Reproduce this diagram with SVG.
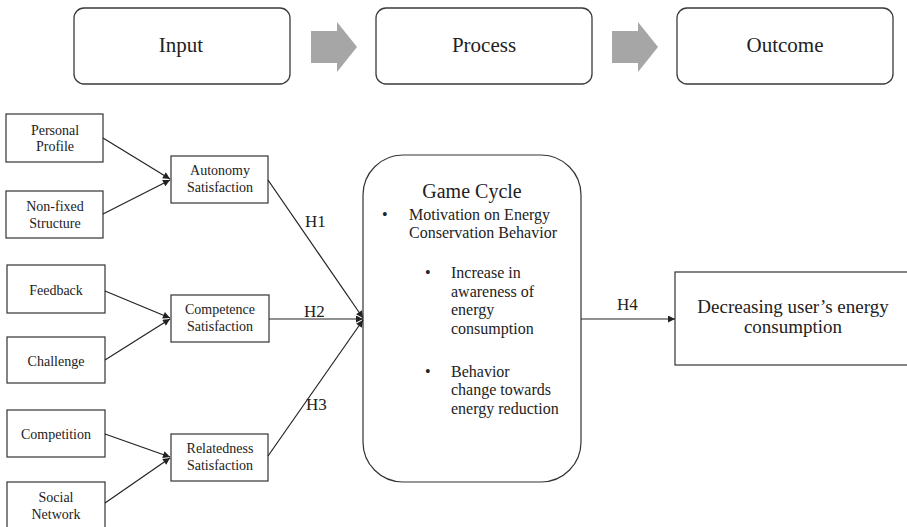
<svg xmlns="http://www.w3.org/2000/svg" width="907" height="527" viewBox="0 0 907 527" font-family="'Liberation Serif', 'DejaVu Serif', serif">
<style>
text{font-family:'Liberation Serif','DejaVu Serif',serif;fill:#222}
.top{fill:#fff;stroke:#3a3a3a;stroke-width:1.3}
.box{fill:#fff;stroke:#333;stroke-width:1.2}
.s{font-size:14px;text-anchor:middle}
.t{font-size:21px;text-anchor:middle}
.h{font-size:17px}
.g{font-size:16px}
.c{stroke:#222;stroke-width:1.2;fill:none}
.blk{fill:#a6a6a6}
</style>
<defs>
<marker id="ah" viewBox="0 0 10 10" refX="10" refY="5" markerWidth="8" markerHeight="7" markerUnits="userSpaceOnUse" orient="auto">
<path d="M0,0 L10,5 L0,10 Z" fill="#222"/>
</marker>
</defs>
<g id="input"><rect class="top" x="74" y="8" width="216" height="76" rx="10"/><text class="t" x="181" y="52">Input</text></g>
<g id="process"><rect class="top" x="376" y="8" width="216" height="76" rx="10"/><text class="t" x="484" y="52">Process</text></g>
<g id="outcome"><rect class="top" x="677" y="8" width="216" height="76" rx="10"/><text class="t" x="785" y="52">Outcome</text></g>
<g id="flow1"><path class="blk" d="M311,31 H337 V22 L357,47 L337,72 V63 H311 Z"/></g>
<g id="flow2"><path class="blk" d="M612,31 H638 V22 L658,47 L638,72 V63 H612 Z"/></g>
<g id="personal"><rect class="box" x="6" y="114" width="97" height="48"/><text class="s" x="55" y="135">Personal</text><text class="s" x="55" y="151">Profile</text></g>
<g id="nonfixed"><rect class="box" x="6" y="191" width="97" height="47"/><text class="s" x="55" y="211">Non-fixed</text><text class="s" x="55" y="228">Structure</text></g>
<g id="feedback"><rect class="box" x="7" y="265" width="98" height="48"/><text class="s" x="56" y="295">Feedback</text></g>
<g id="challenge"><rect class="box" x="7" y="337" width="98" height="46"/><text class="s" x="56" y="366">Challenge</text></g>
<g id="competition"><rect class="box" x="7" y="410" width="98" height="47"/><text class="s" x="56" y="439">Competition</text></g>
<g id="social"><rect class="box" x="7" y="482" width="98" height="50"/><text class="s" x="56" y="502">Social</text><text class="s" x="56" y="519">Network</text></g>
<g id="autonomy"><rect class="box" x="171" y="156" width="97" height="47"/><text class="s" x="220" y="175">Autonomy</text><text class="s" x="220" y="192">Satisfaction</text></g>
<g id="competence"><rect class="box" x="171" y="295" width="98" height="47"/><text class="s" x="220" y="314">Competence</text><text class="s" x="220" y="331">Satisfaction</text></g>
<g id="relatedness"><rect class="box" x="171" y="434" width="97" height="47"/><text class="s" x="220" y="453">Relatedness</text><text class="s" x="220" y="470">Satisfaction</text></g>
<g id="gamecycle"><rect class="box" x="363" y="155" width="218" height="327" rx="40"/>
<text x="472" y="198" style="font-size:20px;text-anchor:middle">Game Cycle</text>
<text class="g" x="382" y="220">•</text>
<text class="g" x="409" y="220">Motivation on Energy</text>
<text class="g" x="409" y="238">Conservation Behavior</text>
<text class="g" x="425" y="278">•</text>
<text class="g" x="451" y="278">Increase in</text>
<text class="g" x="451" y="297">awareness of</text>
<text class="g" x="451" y="315">energy</text>
<text class="g" x="451" y="334">consumption</text>
<text class="g" x="425" y="377">•</text>
<text class="g" x="451" y="377">Behavior</text>
<text class="g" x="451" y="395">change towards</text>
<text class="g" x="451" y="414">energy reduction</text>
</g>
<g id="decreasing"><rect class="box" x="675" y="272" width="240" height="93"/><text x="793" y="313" style="font-size:19px;text-anchor:middle">Decreasing user’s energy</text><text x="793" y="333" style="font-size:19px;text-anchor:middle">consumption</text></g>
<g id="connectors">
<line class="c" x1="103" y1="138" x2="170" y2="179" marker-end="url(#ah)"/>
<line class="c" x1="103" y1="214" x2="170" y2="180" marker-end="url(#ah)"/>
<line class="c" x1="105" y1="291" x2="170" y2="318" marker-end="url(#ah)"/>
<line class="c" x1="105" y1="360" x2="170" y2="319" marker-end="url(#ah)"/>
<line class="c" x1="105" y1="434" x2="170" y2="457" marker-end="url(#ah)"/>
<line class="c" x1="105" y1="503" x2="170" y2="458" marker-end="url(#ah)"/>
<line class="c" x1="268" y1="180" x2="363" y2="318" marker-end="url(#ah)"/>
<line class="c" x1="269" y1="319" x2="363" y2="319" marker-end="url(#ah)"/>
<line class="c" x1="268" y1="456" x2="363" y2="320" marker-end="url(#ah)"/>
<line class="c" x1="581" y1="319" x2="675" y2="319" marker-end="url(#ah)"/>
<text class="h" x="305" y="227">H1</text>
<text class="h" x="304" y="317">H2</text>
<text class="h" x="306" y="410">H3</text>
<text class="h" x="617" y="310">H4</text>
</g>
</svg>
